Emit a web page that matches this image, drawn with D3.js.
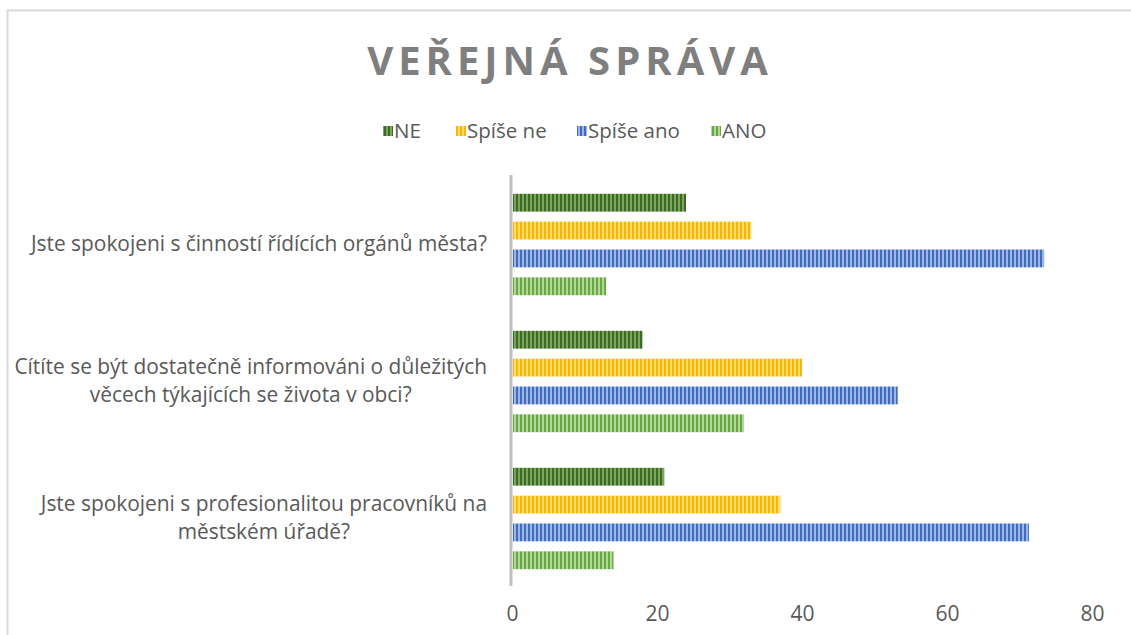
<!DOCTYPE html>
<html>
<head>
<meta charset="utf-8">
<script src="https://cdn.jsdelivr.net/npm/d3@7"></script>
<style>
  html, body { margin: 0; background: #fff; overflow: hidden; }
  svg { display: block; }
  svg text { font-family: "Open Sans", sans-serif; }
</style>
</head>
<body>
<svg id="chart" width="1131" height="635"></svg>
<script>
// data
const categories = [
  ["Jste spokojeni s činností řídících orgánů města?"],
  ["Cítíte se být dostatečně informováni o důležitých", "věcech týkajících se života v obci?"],
  ["Jste spokojeni s profesionalitou pracovníků na", "městském úřadě?"]
];
const seriesNames = ["NE", "Spíše ne", "Spíše ano", "ANO"];
const valuesNE = [24, 18, 21];
const valuesSpiseNe = [33, 40, 37];
const valuesSpiseAno = [73.4, 53.2, 71.3];
const valuesANO = [13, 32, 14];
const xTicks = [0, 20, 40, 60, 80];

const colors = {
  "NE": ["#3d6a27", "#7aa65a"],
  "Spíše ne": ["#f9b800", "#ffdb70"],
  "Spíše ano": ["#3f6cc0", "#9db6e4"],
  "ANO": ["#6aa843", "#b2d897"]
};

let svg = d3.select("#chart");
let margin = { top: 175, left: 512, right: 39, bottom: 49 },
  width = 1131 - margin.left - margin.right,
  height = 635 - margin.top - margin.bottom;

// stripe patterns
let defs = svg.append("defs");
seriesNames.forEach((s, i) => {
  let p = defs.append("pattern")
    .attr("id", "stripe" + i)
    .attr("patternUnits", "userSpaceOnUse")
    .attr("width", 4).attr("height", 10);
  p.append("rect").attr("width", 4).attr("height", 10).attr("fill", colors[s][1]);
  p.append("rect").attr("width", 2).attr("height", 10).attr("fill", colors[s][0]);
});

// outer border (right and bottom edges fall outside the frame)
svg.append("path")
  .attr("d", "M7.5,640V10.5H1140")
  .attr("fill", "none").attr("stroke", "#d9d9d9").attr("stroke-width", 2);

// title
svg.append("text")
  .attr("x", 570).attr("y", 75)
  .attr("text-anchor", "middle")
  .attr("font-size", 40).attr("font-weight", "bold")
  .attr("fill", "#7f7f7f")
  .attr("letter-spacing", 5)
  .text("VEŘEJNÁ SPRÁVA");

// legend
let legendX = [383, 456, 577, 711];
let legend = svg.append("g");
seriesNames.forEach((s, i) => {
  legend.append("rect")
    .attr("x", legendX[i]).attr("y", 126)
    .attr("width", 10).attr("height", 10)
    .attr("fill", `url(#stripe${i})`);
  legend.append("text")
    .attr("x", legendX[i] + 11).attr("y", 138)
    .attr("font-size", 20.5).attr("fill", "#595959")
    .text(s);
});

let g = svg.append("g").attr("transform", `translate(${margin.left},${margin.top})`);

let x = d3.scaleLinear().domain([0, 80]).range([0, 580]);
let y = d3.scaleBand().domain(d3.range(categories.length)).range([0, height]).paddingInner(0.26).paddingOuter(0.13);
let ys = d3.scaleBand().domain(seriesNames).range([0, y.bandwidth()]).paddingInner(0.36);

let allValues = [valuesNE, valuesSpiseNe, valuesSpiseAno, valuesANO];
let rows = [];
categories.forEach((c, ci) => {
  seriesNames.forEach((s, si) => rows.push({ ci, si, s, v: allValues[si][ci] }));
});

g.selectAll(".bar")
  .data(rows)
  .enter()
  .append("rect")
  .attr("class", "bar")
  .attr("x", 1)
  .attr("y", d => y(d.ci) + ys(d.s) + 1)
  .attr("width", d => x(d.v) - 1)
  .attr("height", ys.bandwidth())
  .attr("fill", d => `url(#stripe${d.si})`);

// vertical axis line
g.append("line")
  .attr("x1", -1).attr("x2", -1)
  .attr("y1", 0).attr("y2", height)
  .attr("stroke", "#bfbfbf").attr("stroke-width", 3);

// category labels
categories.forEach((lines, ci) => {
  let cy = y(ci) + y.bandwidth() / 2;
  let t = g.append("text")
    .attr("font-size", 20.9).attr("fill", "#595959")
    .attr("text-anchor", "middle");
  lines.forEach((l, li) => {
    t.append("tspan").attr("x", 0).attr("y", cy + (li - (lines.length - 1) / 2) * 28 + 7).text(l);
  });
  let maxW = d3.max(t.selectAll("tspan").nodes(), n => n.getComputedTextLength());
  t.selectAll("tspan").attr("x", -25 - maxW / 2);
});

// x axis labels
g.append("g")
  .attr("transform", `translate(0,${height})`)
  .call(d3.axisBottom(x).tickValues(xTicks).tickSize(0).tickPadding(20))
  .call(a => a.select(".domain").remove())
  .selectAll("text")
  .attr("font-family", "Open Sans, sans-serif")
  .attr("font-size", 21).attr("fill", "#595959");
</script>
</body>
</html>
